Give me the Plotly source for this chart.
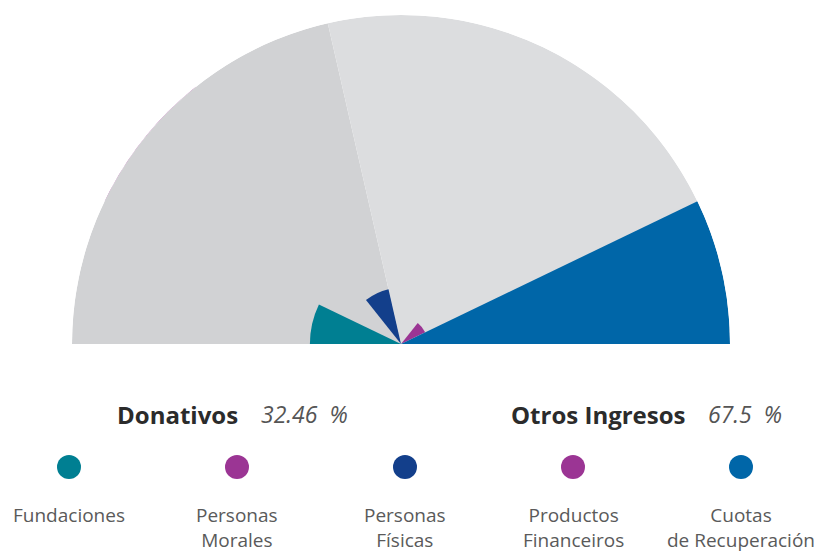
import plotly.graph_objects as go

# ---- data ----
categories = ["Fundaciones", "Personas Morales", "Personas Físicas", "", "",
              "Productos Financieros", "Cuotas de Recuperación"]
values = [18.0, 4.1, 11.1, 0, 0, 5.3, 65.0]
colors = ["#007f92", "#9b3594", "#133f8b", "#ffffff", "#ffffff", "#9b3594", "#0066a8"]
groups = ["Donativos", "Otros Ingresos"]
group_pct = ["32.46", "67.5"]
group_sectors = [3, 4]            # number of sectors in each group
group_bg = ["#d1d2d4", "#dcdddf"]
legend_labels = ["Fundaciones", "Personas<br>Morales", "Personas<br>Físicas",
                 "Productos<br>Financeiros", "Cuotas<br>de Recuperación"]
legend_colors = ["#007f92", "#9b3594", "#133f8b", "#9b3594", "#0066a8"]

W, H = 824, 551
n = len(categories)
step = 180.0 / n
rmax = max(values)
thetas = [180 - step * (i + 0.5) for i in range(n)]

fig = go.Figure()

# grey group backgrounds
start = 0
for g, cnt in enumerate(group_sectors):
    a0 = 180 - step * start
    a1 = 180 - step * (start + cnt)
    fig.add_trace(go.Barpolar(r=[rmax], theta=[(a0 + a1) / 2], width=[a0 - a1],
                              marker=dict(color=group_bg[g], line=dict(width=0)),
                              hoverinfo="skip", showlegend=False))
    start += cnt

idx = [i for i, v in enumerate(values) if v > 0]
fig.add_trace(go.Barpolar(r=[values[i] for i in idx], theta=[thetas[i] for i in idx],
                          width=[step] * len(idx),
                          marker=dict(color=[colors[i] for i in idx], line=dict(width=0)),
                          text=[categories[i] for i in idx], hoverinfo="text+r",
                          showlegend=False))

# legend dots on an overlay cartesian axis in pixel units
dot_x = [69, 237, 405, 573, 741]
fig.add_trace(go.Scatter(x=dot_x, y=[467] * 5, mode="markers",
                         marker=dict(size=24, color=legend_colors, line=dict(width=0)),
                         hoverinfo="skip", showlegend=False, xaxis="x", yaxis="y"))

fig.update_layout(
    width=W, height=H, margin=dict(l=0, r=0, t=0, b=0),
    paper_bgcolor="white", plot_bgcolor="rgba(0,0,0,0)",
    font=dict(family="Open Sans, sans-serif"),
    polar=dict(
        domain=dict(x=[72 / W, 730 / W], y=[1 - 344 / H, 1 - 15 / H]),
        sector=[0, 180], hole=0, bgcolor="rgba(0,0,0,0)",
        radialaxis=dict(range=[0, rmax], visible=False),
        angularaxis=dict(visible=False, direction="counterclockwise", rotation=0,
                         thetaunit="degrees"),
        bargap=0,
    ),
    xaxis=dict(range=[0, W], domain=[0, 1], visible=False, fixedrange=True),
    yaxis=dict(range=[H, 0], domain=[0, 1], visible=False, fixedrange=True),
)

ann = []
head_y = 414
# group headings
heads = [(240, 259, 0), (688, 706, 1)]
for right_x, left_x, g in heads:
    name = groups[g].replace(" ", "\u00a0")
    ann.append(dict(x=right_x, y=head_y, xref="x", yref="y", text="<b>" + name + "</b>",
                    showarrow=False, xanchor="right", yanchor="middle",
                    font=dict(size=24, color="#2b2b2b")))
    ann.append(dict(x=left_x, y=head_y, xref="x", yref="y",
                    text="<i>" + group_pct[g] + "\u00a0\u00a0%</i>",
                    showarrow=False, xanchor="left", yanchor="middle",
                    font=dict(size=23, color="#555555")))
for x, lab in zip(dot_x, legend_labels):
    ann.append(dict(x=x, y=500, xref="x", yref="y", text=lab, showarrow=False,
                    xanchor="center", yanchor="top", align="center",
                    font=dict(size=19, color="#5a5a5a")))
fig.update_layout(annotations=ann)

fig.write_html("out.html", config={"displayModeBar": False},
               post_script="document.body.style.margin='0';")
